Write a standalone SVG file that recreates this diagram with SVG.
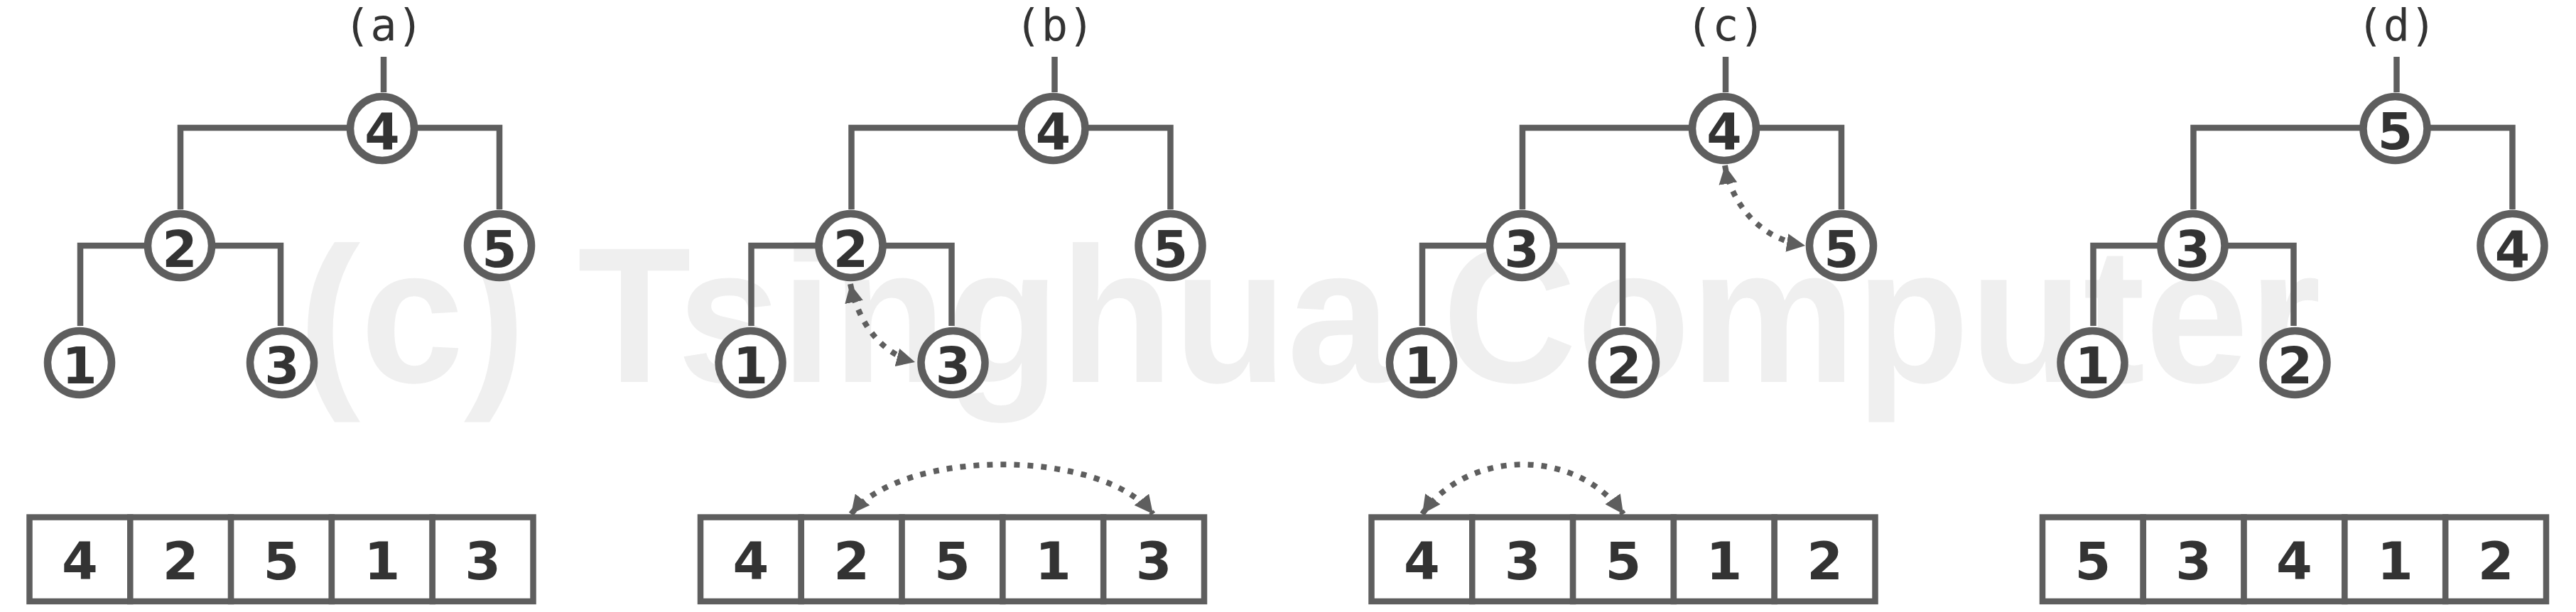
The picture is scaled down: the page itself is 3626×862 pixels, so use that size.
<svg xmlns="http://www.w3.org/2000/svg" width="3626" height="862" viewBox="0 0 3626 862">
<style>
.wm{font-family:"Liberation Sans",Arial,sans-serif;font-weight:bold;font-size:272px;fill:#efefef}
.lbl{font-family:"DejaVu Sans Mono","Liberation Mono",monospace;font-size:62px;fill:#333;text-anchor:middle}
.edge{fill:none;stroke:#5e5e5e;stroke-width:8.5;stroke-linejoin:miter}
.node circle{fill:#fff;stroke:#5e5e5e;stroke-width:10.5}
.num{font-family:"DejaVu Sans","Liberation Sans",sans-serif;font-weight:bold;font-size:71px;fill:#333;text-anchor:middle}
.cell rect{fill:#fff;stroke:#5e5e5e;stroke-width:8.5}
.cnum{font-family:"DejaVu Sans","Liberation Sans",sans-serif;font-weight:bold;font-size:73px;fill:#333;text-anchor:middle}
.swap{fill:none;stroke:#5e5e5e;stroke-width:8;stroke-dasharray:8 11;marker-start:url(#ah);marker-end:url(#ah)}
</style>
<defs>
<marker id="ah" markerUnits="userSpaceOnUse" viewBox="0 0 26 26" markerWidth="26" markerHeight="26" refX="26" refY="13" orient="auto-start-reverse"><path d="M0,0 L26,13 L0,26 z" fill="#5e5e5e"/></marker>
<g id="tree-edges">
<path class="edge" d="M540,80 V130"/>
<path class="edge" d="M254,295 V180 H703 V295"/>
<path class="edge" d="M113,459 V346 H395 V459"/>
</g>
</defs>
<rect width="3626" height="862" fill="#fff"/>
<text class="wm" x="420" y="538" textLength="2847" lengthAdjust="spacingAndGlyphs">(c) Tsinghua Computer</text>

<g id="connectors">
<use href="#tree-edges"/>
<use href="#tree-edges" transform="translate(944.5,0)"/>
<use href="#tree-edges" transform="translate(1889,0)"/>
<use href="#tree-edges" transform="translate(2833.5,0)"/>
<path class="swap" d="M1197,400 C1205,440 1230,495 1288,510"/>
<path class="swap" d="M2428,233 C2436,280 2470,335 2541,346"/>
<path class="swap" d="M1198,724 C1271,631 1550,631 1623,724"/>
<path class="swap" d="M2002,724 C2067,631 2220,631 2285,724"/>
</g>

<g id="panel-a">
<text class="lbl" x="540" y="57">(a)</text>
<g id="a-n4" class="node"><circle cx="538" cy="181" r="45"/><text class="num" x="538" y="210">4</text></g>
<g id="a-n2" class="node"><circle cx="253" cy="346" r="45"/><text class="num" x="253" y="376">2</text></g>
<g id="a-n5" class="node"><circle cx="703" cy="346" r="45"/><text class="num" x="703" y="376">5</text></g>
<g id="a-n1" class="node"><circle cx="112" cy="511" r="45"/><text class="num" x="112" y="540">1</text></g>
<g id="a-n3" class="node"><circle cx="397" cy="511" r="45"/><text class="num" x="397" y="540">3</text></g>
<g id="a-array" class="cell">
<rect x="41.5" y="728.5" width="141.8" height="118.5"/><rect x="183.3" y="728.5" width="141.8" height="118.5"/><rect x="325.1" y="728.5" width="141.8" height="118.5"/><rect x="466.9" y="728.5" width="141.8" height="118.5"/><rect x="608.7" y="728.5" width="141.8" height="118.5"/>
<text class="cnum" x="112.4" y="816">4</text><text class="cnum" x="254.2" y="816">2</text><text class="cnum" x="396" y="816">5</text><text class="cnum" x="537.8" y="816">1</text><text class="cnum" x="679.6" y="816">3</text>
</g>
</g>

<g id="panel-b" transform="translate(944.5,0)">
<text class="lbl" x="540" y="57">(b)</text>
<g id="b-n4" class="node"><circle cx="538" cy="181" r="45"/><text class="num" x="538" y="210">4</text></g>
<g id="b-n2" class="node"><circle cx="253" cy="346" r="45"/><text class="num" x="253" y="376">2</text></g>
<g id="b-n5" class="node"><circle cx="703" cy="346" r="45"/><text class="num" x="703" y="376">5</text></g>
<g id="b-n1" class="node"><circle cx="112" cy="511" r="45"/><text class="num" x="112" y="540">1</text></g>
<g id="b-n3" class="node"><circle cx="397" cy="511" r="45"/><text class="num" x="397" y="540">3</text></g>
<g id="b-array" class="cell">
<rect x="41.5" y="728.5" width="141.8" height="118.5"/><rect x="183.3" y="728.5" width="141.8" height="118.5"/><rect x="325.1" y="728.5" width="141.8" height="118.5"/><rect x="466.9" y="728.5" width="141.8" height="118.5"/><rect x="608.7" y="728.5" width="141.8" height="118.5"/>
<text class="cnum" x="112.4" y="816">4</text><text class="cnum" x="254.2" y="816">2</text><text class="cnum" x="396" y="816">5</text><text class="cnum" x="537.8" y="816">1</text><text class="cnum" x="679.6" y="816">3</text>
</g>
</g>

<g id="panel-c" transform="translate(1889,0)">
<text class="lbl" x="540" y="57">(c)</text>
<g id="c-n4" class="node"><circle cx="538" cy="181" r="45"/><text class="num" x="538" y="210">4</text></g>
<g id="c-n3" class="node"><circle cx="253" cy="346" r="45"/><text class="num" x="253" y="376">3</text></g>
<g id="c-n5" class="node"><circle cx="703" cy="346" r="45"/><text class="num" x="703" y="376">5</text></g>
<g id="c-n1" class="node"><circle cx="112" cy="511" r="45"/><text class="num" x="112" y="540">1</text></g>
<g id="c-n2" class="node"><circle cx="397" cy="511" r="45"/><text class="num" x="397" y="540">2</text></g>
<g id="c-array" class="cell">
<rect x="41.5" y="728.5" width="141.8" height="118.5"/><rect x="183.3" y="728.5" width="141.8" height="118.5"/><rect x="325.1" y="728.5" width="141.8" height="118.5"/><rect x="466.9" y="728.5" width="141.8" height="118.5"/><rect x="608.7" y="728.5" width="141.8" height="118.5"/>
<text class="cnum" x="112.4" y="816">4</text><text class="cnum" x="254.2" y="816">3</text><text class="cnum" x="396" y="816">5</text><text class="cnum" x="537.8" y="816">1</text><text class="cnum" x="679.6" y="816">2</text>
</g>
</g>

<g id="panel-d" transform="translate(2833.5,0)">
<text class="lbl" x="540" y="57">(d)</text>
<g id="d-n5" class="node"><circle cx="538" cy="181" r="45"/><text class="num" x="538" y="210">5</text></g>
<g id="d-n3" class="node"><circle cx="253" cy="346" r="45"/><text class="num" x="253" y="376">3</text></g>
<g id="d-n4" class="node"><circle cx="703" cy="346" r="45"/><text class="num" x="703" y="376">4</text></g>
<g id="d-n1" class="node"><circle cx="112" cy="511" r="45"/><text class="num" x="112" y="540">1</text></g>
<g id="d-n2" class="node"><circle cx="397" cy="511" r="45"/><text class="num" x="397" y="540">2</text></g>
<g id="d-array" class="cell">
<rect x="41.5" y="728.5" width="141.8" height="118.5"/><rect x="183.3" y="728.5" width="141.8" height="118.5"/><rect x="325.1" y="728.5" width="141.8" height="118.5"/><rect x="466.9" y="728.5" width="141.8" height="118.5"/><rect x="608.7" y="728.5" width="141.8" height="118.5"/>
<text class="cnum" x="112.4" y="816">5</text><text class="cnum" x="254.2" y="816">3</text><text class="cnum" x="396" y="816">4</text><text class="cnum" x="537.8" y="816">1</text><text class="cnum" x="679.6" y="816">2</text>
</g>
</g>
</svg>
